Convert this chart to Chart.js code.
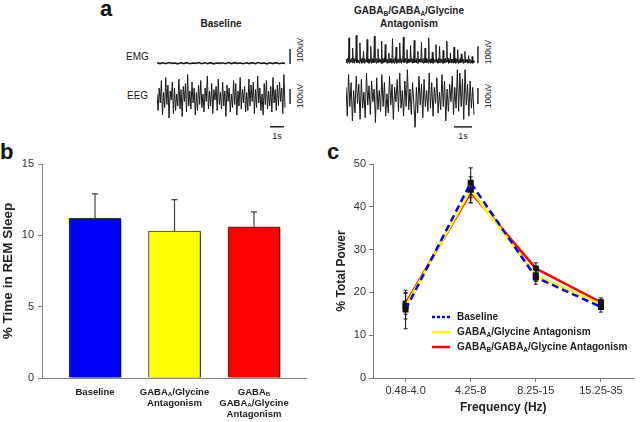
<!DOCTYPE html>
<html>
<head>
<meta charset="utf-8">
<script src="https://cdn.jsdelivr.net/npm/chart.js@4.4.1/dist/chart.umd.min.js"></script>
<style>
body{margin:0;width:640px;height:422px;position:relative;background:#fff;overflow:hidden;font-family:"Liberation Sans",Arial,sans-serif}
canvas{position:absolute}
.t{position:absolute;color:#222;white-space:nowrap;line-height:1}
.letter{font-size:22px;font-weight:bold;color:#111}
.ttl{font-size:10px;font-weight:bold;text-align:center}
.ttl sub{font-size:65%;vertical-align:-2px;line-height:0}
.rot{font-size:8.5px;transform:translate(-50%,-50%) rotate(-90deg)}
.ctr{transform:translate(-50%,-50%)}
</style>
</head>
<body>
<div class="t letter" style="left:100px;top:-2px">a</div>
<div class="t letter" style="left:0px;top:141px">b</div>
<div class="t letter" style="left:327px;top:141px">c</div>

<div class="t ttl" style="left:171px;top:19px;width:100px">Baseline</div>
<div class="t ttl" style="left:339px;top:6px;width:140px">GABA<sub>B</sub>/GABA<sub>A</sub>/Glycine</div>
<div class="t ttl" style="left:339px;top:19px;width:140px">Antagonism</div>

<div class="t" style="left:126px;top:52px;font-size:10px">EMG</div>
<div class="t" style="left:127px;top:91px;font-size:10px">EEG</div>
<div class="t rot" style="left:300px;top:50px">100uV</div>
<div class="t rot" style="left:300px;top:96px">100uV</div>
<div class="t rot" style="left:488px;top:52px">100uV</div>
<div class="t rot" style="left:488px;top:96px">100uV</div>
<div class="t ctr" style="left:277px;top:136px;font-size:9px">1s</div>
<div class="t ctr" style="left:463px;top:136px;font-size:9px">1s</div>

<canvas id="emgL" width="143" height="30" style="left:157px;top:40px"></canvas>
<canvas id="eegL" width="143" height="62" style="left:157px;top:70px"></canvas>
<canvas id="emgR" width="144" height="38" style="left:346px;top:30px"></canvas>
<canvas id="eegR" width="144" height="64" style="left:346px;top:68px"></canvas>

<canvas id="rem" width="320" height="272" style="left:0;top:150px"></canvas>
<canvas id="power" width="320" height="272" style="left:320px;top:150px"></canvas>

<script>
// ---- panel a : raw traces (uV) ----
const emgBaseline = [4,-2,3,-3,5,-1,2,-4,3,-2,4,-3,2,-1,5,-3,3,-2,4,-4,2,-1,3,-3,5,-2,4,-1,2,-3,3,-2,4,-3,5,-1,2,-4,3,-2,4,-3,2,-1];
const eegBaseline = [20,-90,60,-40,110,-120,30,-70,130,-50,80,-140,40,-20,100,-110,60,-90,20,-60,120,-80,50,-130,70,-30,90,-100,150,-60,40,-80,100,-40,60,-120,30,-90,80,-50,110,-70,20,-100,60,-30,140,-80,40,-60,90,-110,50,-20,70,-90,120,-50,30,-80,100,-60,40,-130,80,-30,60,-100,20,-70,110,-50,90,-120,40,-60,130,-80,50,-40,70,-100,30,-90,120,-60,80,-30,100,-110,50,-70,140,-40,60,-90,20,-120,90,-50,110,-80,40,-60,70,-100,130,-40,50,-90,80,-60,100,-30,60,-110,150,-70];
const emgDrug = [5,25,0,30,10,150, 0,20,8,28,3,90, 6,30,0,22,12,165, 2,26,5,18,0,120, 8,24,0,30,4,70, 0,28,6,20,10,140, 4,22,0,26,7,100, 0,30,5,24,2,160, 9,20,0,28,5,85, 3,26,8,22,0,130, 0,24,4,30,6,110, 7,20,0,26,3,60, 2,28,6,22,0,145, 5,24,0,30,8,95, 0,22,5,26,3,120, 6,28,0,20,9,155, 3,24,7,30,0,80, 0,26,4,22,6,105, 8,30,0,24,2,135, 4,20,6,28,0,70, 0,24,8,26,5,125, 6,22,0,30,3,90, 2,28,5,20,0,150, 7,24,0,26,4,65, 0,30,6,22,8,110, 5,20,0,28,2,100, 3,26,7,24,0,75, 0,22,4,30,6,130, 8,28,0,20,3,60, 2,24,6,26,0,95, 5,30,0,22,7,80, 0,20,4,28,3,55, 6,26,0,24,5,70, 2,22,7,20,0,45, 4,24,0,18,3,40, 0,15,5];
const eegDrug = [60,-120,140,-60,90,-150,40,-100,130,-40,80,-140,110,-70,30,-130,150,-50,70,-110,100,-30,50,-160,120,-80,40,-90,140,-60,90,-120,20,-100,130,-50,80,-140,60,-30,110,-90,150,-70,40,-120,100,-60,170,-80,50,-110,90,-40,-190,60,-100,130,-50,80,-130,110,-60,40,-90,150,-70,90,-120,60,-40,120,-100,30,-80,140,-60,100,-150,50,-90,80,-30,130,-110,60,-70,170,-90,150,-60,110,-140,170,-50,80,-120,100,-70,60,-110];
const scaleBarUv = 100;
const scaleBarSec = 1;

// ---- panel b : REM sleep ----
const remLabels = [
  [[['Baseline',0]]],
  [[['GABA',0],['A',1],['/Glycine',0]], [['Antagonism',0]]],
  [[['GABA',0],['B',1]], [['GABA',0],['A',1],['/Glycine',0]], [['Antagonism',0]]]
];
const remMeans = [11.2, 10.3, 10.6];
const remSem = [1.7, 2.2, 1.05];
const remColors = ['#0000ff', '#ffff00', '#ff0000'];

// ---- panel c : EEG power ----
const freqBands = ['0.48-4.0', '4.25-8', '8.25-15', '15.25-35'];
const powerBaseline = [16.0, 45.6, 23.5, 16.6];
const powerBaselineErr = [4.5, 3.5, 1.6, 1.2];
const powerGabaA = [16.8, 44.0, 24.0, 17.2];
const powerGabaAErr = [3.0, 3.0, 1.4, 1.0];
const powerGabaB = [17.4, 43.4, 25.6, 17.7];
const powerGabaBErr = [2.5, 2.5, 1.3, 1.0];
const powerLegend = [
  [['Baseline',0]],
  [['GABA',0],['A',1],['/Glycine Antagonism',0]],
  [['GABA',0],['B',1],['/GABA',0],['A',1],['/Glycine Antagonism',0]]
];

const FONT = '"Liberation Sans", Arial, sans-serif';

function drawRich(ctx, segs, x, y, size, align) {
  let w = 0;
  segs.forEach(s => {
    ctx.font = 'bold ' + (s[1] ? size * 0.65 : size) + 'px ' + FONT;
    w += ctx.measureText(s[0]).width;
  });
  let px = align === 'center' ? x - w / 2 : x;
  segs.forEach(s => {
    const sz = s[1] ? size * 0.65 : size;
    ctx.font = 'bold ' + sz + 'px ' + FONT;
    ctx.fillText(s[0], px, s[1] ? y + size * 0.28 : y);
    px += ctx.measureText(s[0]).width;
  });
}

function trace(id, values, o) {
  const pts = values.map((v, i) => ({x: i * o.dur / (values.length - 1), y: v}));
  const sets = [
    {data: pts, borderColor: '#1a1a1a', borderWidth: o.lw || 1},
    {data: [{x: o.barX, y: o.barFrom}, {x: o.barX, y: o.barFrom + scaleBarUv}], borderColor: '#222', borderWidth: 1.5}
  ];
  if (o.secY !== undefined) {
    sets.push({data: [{x: o.secX, y: o.secY}, {x: o.secX + scaleBarSec, y: o.secY}], borderColor: '#222', borderWidth: 1.5});
  }
  new Chart(document.getElementById(id), {
    type: 'line',
    data: {datasets: sets},
    options: {
      responsive: false, animation: false,
      layout: {padding: 0},
      elements: {point: {radius: 0}, line: {tension: 0}},
      plugins: {legend: {display: false}, tooltip: {enabled: false}},
      scales: {
        x: {type: 'linear', display: false, min: 0, max: o.xMax},
        y: {display: false, min: o.yMin, max: o.yMax}
      }
    }
  });
}

trace('emgL', emgBaseline, {dur: 9.14, xMax: 10.21, yMin: -45, yMax: 155, barX: 9.5, barFrom: -5, lw: 1.6});
trace('eegL', eegBaseline, {dur: 9.14, xMax: 10.21, yMin: -233, yMax: 180, barX: 9.5, barFrom: -47, secX: 8.07, secY: -198});
trace('emgR', emgDrug, {dur: 7.11, xMax: 8.0, yMin: -28, yMax: 196, barX: 7.33, barFrom: 0});
trace('eegR', eegDrug, {dur: 7.11, xMax: 8.0, yMin: -219, yMax: 181, barX: 7.33, barFrom: -44, secX: 6, secY: -187});

// bar chart
const remPlugin = {
  id: 'remExtras',
  beforeDatasetsDraw(chart) {
    const c = chart.ctx;
    c.save();
    c.shadowColor = 'rgba(0,0,0,0.55)';
    c.shadowOffsetX = 3;
    c.shadowOffsetY = 2;
    c.shadowBlur = 2;
  },
  afterDatasetsDraw(chart) {
    const c = chart.ctx;
    c.restore();
    const x = chart.scales.x, y = chart.scales.y;
    c.save();
    c.strokeStyle = '#444';
    c.lineWidth = 1.2;
    remMeans.forEach((m, i) => {
      const px = x.getPixelForValue(i);
      const top = y.getPixelForValue(m + remSem[i]);
      c.beginPath();
      c.moveTo(px, y.getPixelForValue(m));
      c.lineTo(px, top);
      c.moveTo(px - 3, top);
      c.lineTo(px + 3, top);
      c.stroke();
    });
    c.fillStyle = '#222';
    c.textBaseline = 'middle';
    remLabels.forEach((lines, i) => {
      const px = x.getPixelForValue(i);
      lines.forEach((segs, j) => {
        drawRich(c, segs, px, chart.chartArea.bottom + 14 + j * 11, 9.5, 'center');
      });
    });
    c.restore();
  }
};

new Chart(document.getElementById('rem'), {
  type: 'bar',
  data: {
    datasets: [{
      data: remMeans.map((v, i) => ({x: i, y: v})),
      backgroundColor: remColors,
      borderColor: '#333',
      borderWidth: 1,
      barThickness: 52
    }]
  },
  options: {
    responsive: false, animation: false,
    layout: {padding: {top: 14, right: 14, left: 0, bottom: 0}},
    plugins: {legend: {display: false}, tooltip: {enabled: false}},
    scales: {
      x: {
        type: 'linear', min: -0.667, max: 2.654, offset: false,
        ticks: {display: false},
        grid: {display: false},
        border: {color: '#888', width: 1},
        afterFit: s => { s.height = 44; }
      },
      y: {
        min: 0, max: 15,
        ticks: {stepSize: 5, color: '#333', font: {size: 11, family: FONT}, padding: 4},
        grid: {drawOnChartArea: false, tickLength: 4, color: '#888'},
        border: {color: '#888', width: 1},
        title: {display: true, text: '% Time in REM Sleep', color: '#222', font: {size: 13.5, weight: 'bold', family: FONT}, padding: 0},
        afterFit: s => { s.width = 42; }
      }
    }
  },
  plugins: [remPlugin]
});

// line chart
const powerErrs = [powerBaselineErr, powerGabaAErr, powerGabaBErr];
const powerPlugin = {
  id: 'powerExtras',
  afterDatasetsDraw(chart) {
    const c = chart.ctx;
    const y = chart.scales.y;
    c.save();
    c.strokeStyle = '#111';
    c.lineWidth = 1;
    chart.data.datasets.forEach((ds, d) => {
      const meta = chart.getDatasetMeta(d);
      meta.data.forEach((pt, i) => {
        const hi = y.getPixelForValue(ds.data[i] + powerErrs[d][i]);
        const lo = y.getPixelForValue(ds.data[i] - powerErrs[d][i]);
        c.beginPath();
        c.moveTo(pt.x, hi); c.lineTo(pt.x, lo);
        c.moveTo(pt.x - 2, hi); c.lineTo(pt.x + 2, hi);
        c.moveTo(pt.x - 2, lo); c.lineTo(pt.x + 2, lo);
        c.stroke();
      });
    });
    // legend
    const a = chart.chartArea;
    const styles = [
      {color: '#0000ff', dash: [3, 2]},
      {color: '#ffff00', dash: []},
      {color: '#ff0000', dash: []}
    ];
    c.textBaseline = 'middle';
    c.fillStyle = '#222';
    powerLegend.forEach((segs, i) => {
      const ly = a.top + 153 + i * 15;
      c.save();
      c.strokeStyle = styles[i].color;
      c.lineWidth = 2.5;
      c.setLineDash(styles[i].dash);
      c.beginPath();
      c.moveTo(a.left + 59, ly);
      c.lineTo(a.left + 77, ly);
      c.stroke();
      c.restore();
      drawRich(c, segs, a.left + 84, ly, 10, 'left');
    });
    c.restore();
  }
};

const pointStyle = {pointStyle: 'rect', pointRadius: 2.5, pointBackgroundColor: '#111', pointBorderColor: '#111', borderWidth: 2.5};
new Chart(document.getElementById('power'), {
  type: 'line',
  data: {
    labels: freqBands,
    datasets: [
      Object.assign({label: 'Baseline', data: powerBaseline, borderColor: '#0000ff', borderDash: [7, 4], order: 0}, pointStyle),
      Object.assign({label: 'GABAA/Glycine Antagonism', data: powerGabaA, borderColor: '#ffff00', order: 1}, pointStyle),
      Object.assign({label: 'GABAB/GABAA/Glycine Antagonism', data: powerGabaB, borderColor: '#ff0000', order: 2}, pointStyle)
    ]
  },
  options: {
    responsive: false, animation: false,
    layout: {padding: {top: 14, right: 1, left: 0, bottom: 0}},
    elements: {line: {tension: 0}},
    plugins: {legend: {display: false}, tooltip: {enabled: false}},
    scales: {
      x: {
        offset: true,
        ticks: {color: '#333', font: {size: 11, family: FONT}, padding: 2},
        grid: {drawOnChartArea: false, tickLength: 4, color: '#777', offset: false},
        border: {color: '#777', width: 1},
        title: {display: true, text: 'Frequency (Hz)', color: '#222', font: {size: 12, weight: 'bold', family: FONT}, padding: {top: 0, bottom: 7}},
        afterFit: s => { s.height = 44; }
      },
      y: {
        min: 0, max: 50,
        ticks: {stepSize: 10, color: '#333', font: {size: 11, family: FONT}, padding: 3},
        grid: {drawOnChartArea: false, tickLength: 4, color: '#777'},
        border: {color: '#777', width: 1},
        title: {display: true, text: '% Total Power', color: '#222', font: {size: 12, weight: 'bold', family: FONT}, padding: {top: 14, bottom: 0}},
        afterFit: s => { s.width = 53; }
      }
    }
  },
  plugins: [powerPlugin]
});
</script>
</body>
</html>
